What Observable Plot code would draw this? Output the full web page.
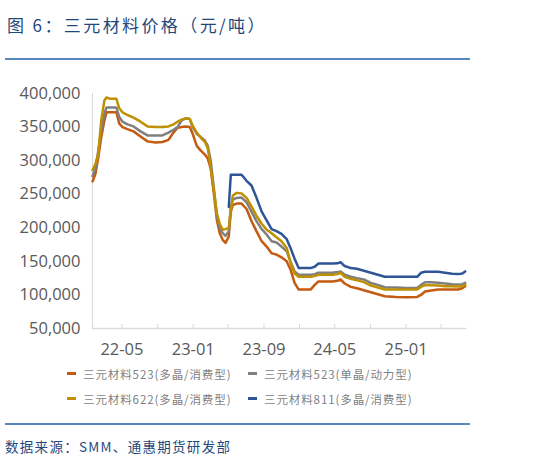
<!DOCTYPE html>
<html>
<head>
<meta charset="utf-8">
<script src="https://cdn.jsdelivr.net/npm/d3@7"></script>
<script src="https://cdn.jsdelivr.net/npm/@observablehq/plot@0.6"></script>
<style>
  body { margin: 0; background: #fff; width: 559px; height: 469px; position: relative; overflow: hidden; font-family: "Noto Sans CJK SC", sans-serif; }
  #title { position: absolute; left: 7px; top: 15px; font-size: 17px; line-height: 20px; color: #1F497D; letter-spacing: 2.4px; white-space: nowrap; }
  .rule { position: absolute; left: 5px; width: 465px; height: 2px; background: #5B87C0; }
  #chart { position: absolute; left: 0; top: 70px; }
  #legend { position: absolute; left: 67px; top: 361px; display: grid; grid-template-columns: 181px auto; grid-auto-rows: 25px; align-items: center; }
  #legend div { font-size: 11.5px; color: #7f7f7f; letter-spacing: 0.9px; white-space: nowrap; display: flex; align-items: center; }
  #legend span { display: inline-block; width: 9px; height: 3px; margin-right: 7px; }
  #source { position: absolute; left: 5px; top: 437px; font-size: 13.5px; line-height: 18px; color: #1F497D; letter-spacing: 1.3px; white-space: nowrap; }
</style>
</head>
<body>
<div id="title">图 6：三元材料价格（元/吨）</div>
<div class="rule" style="top:58px"></div>
<div id="chart"></div>
<div id="legend"></div>
<div class="rule" style="top:423px"></div>
<div id="source">数据来源：SMM、通惠期货研发部</div>
<script>
// 系列名称与颜色
const names = ["三元材料523(多晶/消费型)", "三元材料523(单晶/动力型)", "三元材料622(多晶/消费型)", "三元材料811(多晶/消费型)"]
const colors = ["#C55A11", "#7F7F7F", "#BF9000", "#2F5597"]

// 日期
const dates = ["2022-01-20","2022-01-30","2022-02-09","2022-02-19","2022-03-02","2022-03-09","2022-03-23","2022-04-12","2022-04-22",
  "2022-05-03","2022-05-20","2022-06-10","2022-07-04","2022-07-28","2022-08-24","2022-09-17","2022-10-08","2022-10-25","2022-11-08",
  "2022-11-22","2022-12-06","2022-12-20","2022-12-30","2023-01-13","2023-01-27","2023-02-10","2023-02-20","2023-03-02","2023-03-13",
  "2023-03-23","2023-04-02","2023-04-12","2023-04-22","2023-05-03","2023-05-10","2023-05-17","2023-05-30","2023-06-16","2023-07-03",
  "2023-07-20","2023-08-06","2023-08-24","2023-09-10","2023-09-27","2023-10-14","2023-10-31","2023-11-18","2023-12-01","2023-12-15",
  "2023-12-29","2024-01-18","2024-02-08","2024-02-22","2024-03-06","2024-03-30","2024-04-23","2024-05-10","2024-05-21","2024-06-04",
  "2024-06-25","2024-07-16","2024-08-09","2024-09-02","2024-09-26","2024-10-20","2024-11-27","2025-01-01","2025-02-08","2025-02-21",
  "2025-03-07","2025-03-28","2025-04-21","2025-05-15","2025-06-08","2025-06-29","2025-07-13","2025-07-23"]

// 价格，千元/吨
const ncm523poly = [269,280,305,335,360,372,372,372,355,
  350,347,343.6,336,328.7,327,327.8,331,341.7,349,
  350,351,350,340,322,315,309,303,288,250,
  212,192,182,177.5,187,224,234,236,236,228,
  210,195,180,172,162,160,156,150,138,118,
  108,108,108,115,120,120,120,121,123,117,
  112,110,107,104,101,98,97,96.5,97,100,
  105,106.5,108,108,108,108,110,113]
const ncm523single = [277,288,315,345,370,379,379,379,365,
  358,354,351,343.6,337.6,337.6,337.6,341.7,346,350,
  360,363,362,350,340,335,330,322,300,258,
  218,200,192,188,195,230,242,244.5,245,238,
  224,210,198,190,180,178,172,165,150,135,
  130,130,130,131,133,133,133,134,135,130,
  127,125,123,118,115,111.5,111,110.5,110.5,115,
  119,119,118,117,116,115.5,116,118]
const ncm622poly = [286,295,310,360,390,394,392,392,378,
  372,368,364,358,351,350,350,351,354,358,
  361,363,362,352,342,334,328,318,290,255,
  222,206,197,198,200,227,248,252,251,244.5,
  232,218,206,197,192,186,180,170,148,132,
  127,127,127,128,130,130,130,131,133,127,
  124,122,119,114,111,108,108,108,108,112,
  114.5,114.5,114,113,113,112.5,113,115]
const ncm811poly = [null,null,null,null,null,null,null,null,null,
  null,null,null,null,null,null,null,null,null,null,
  null,null,null,null,null,null,null,null,null,null,
  null,null,null,null,231,279,279,279,279,270,
  263,245,224,211,198,195,191,183,170,154,
  140,140,140,142,146.7,146.7,146.7,147,148.7,143,
  140,139,136,133,130,127,127,127,127,133,
  134.4,134.4,134.4,133,131.5,131,132,135]

const yTicks = [50000, 100000, 150000, 200000, 250000, 300000, 350000, 400000]
const xLabels = ["2022-05-01", "2023-01-01", "2023-09-01", "2024-05-01", "2025-01-01"]

const series = [ncm523poly, ncm523single, ncm622poly, ncm811poly]
const rows = series.flatMap((vals, i) => vals.map((v, j) => ({
  date: new Date(dates[j]),
  value: v == null ? null : v * 1000,
  series: names[i]
})))

let chart = Plot.plot({
  width: 559,
  height: 300,
  marginTop: 23,
  marginBottom: 42,
  marginLeft: 92,
  marginRight: 94,
  style: { fontFamily: "Open Sans", fontSize: "16.5px", color: "#595959", background: "transparent", overflow: "visible" },
  x: { type: "utc", domain: [new Date("2022-01-20"), new Date("2025-07-24")] },
  y: { domain: [50000, 400000] },
  color: { domain: names, range: colors },
  marks: [
    Plot.frame({ anchor: "left", stroke: "#D9D9D9" }),
    Plot.frame({ anchor: "bottom", stroke: "#D9D9D9", strokeWidth: 1.5 }),
    Plot.axisY({ ticks: yTicks, tickSize: 0, tickPadding: 12, tickFormat: d3.format(","), label: null }),
    Plot.axisX({ ticks: d3.utcMonth.every(4), tickSize: -4, stroke: "#D9D9D9", text: null, label: null }),
    Plot.axisX({ ticks: xLabels.map(d => new Date(d)), tickSize: 0, tickPadding: 15, tickFormat: d3.utcFormat("%y-%m"), label: null }),
    Plot.line(rows, { x: "date", y: "value", z: "series", stroke: "series", strokeWidth: 2.5 })
  ]
})
d3.select("#chart").append(() => chart)

// 图例
const legend = d3.select("#legend")
names.forEach((n, i) => {
  const item = legend.append("div")
  item.append("span").style("background", colors[i])
  item.append("text").text(n)
})
</script>
</body>
</html>
